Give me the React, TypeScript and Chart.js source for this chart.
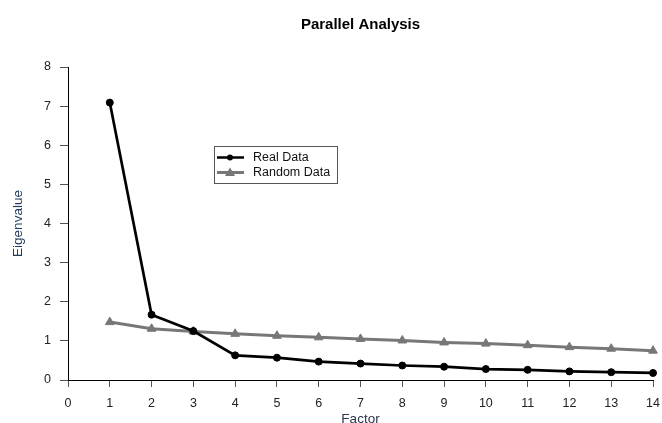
import React, { useEffect, useRef } from "react";
import { Chart, registerables } from "chart.js";

Chart.register(...registerables);

const factors = [1, 2, 3, 4, 5, 6, 7, 8, 9, 10, 11, 12, 13, 14];
const realData = [7.09, 1.67, 1.25, 0.63, 0.57, 0.47, 0.42, 0.37, 0.34, 0.28, 0.26, 0.22, 0.2, 0.18];
const randomData = [1.48, 1.31, 1.24, 1.18, 1.13, 1.09, 1.05, 1.01, 0.96, 0.93, 0.89, 0.84, 0.8, 0.75];
const legendLabels = ["Real Data", "Random Data"];
const titleText = "Parallel Analysis";
const xTitle = "Factor";
const yTitle = "Eigenvalue";

const FONT = "'Liberation Sans', Arial, Helvetica, sans-serif";
const REAL_COLOR = "#000000";
const RANDOM_COLOR = "#777777";

const legendPlugin = {
  id: "customLegend",
  afterDraw(chart: any) {
    const ctx = chart.ctx;
    ctx.save();
    ctx.strokeStyle = "#555";
    ctx.lineWidth = 1;
    ctx.strokeRect(214.5, 146.5, 123, 37);
    const rows = [
      { y: 157.5, color: REAL_COLOR, style: "circle", r: 3, lw: 2.5 },
      { y: 172.5, color: RANDOM_COLOR, style: "triangle", r: 5, lw: 3 },
    ];
    rows.forEach((row, i) => {
      ctx.strokeStyle = row.color;
      ctx.fillStyle = row.color;
      ctx.lineWidth = row.lw;
      ctx.beginPath();
      ctx.moveTo(217, row.y);
      ctx.lineTo(244, row.y);
      ctx.stroke();
      ctx.beginPath();
      if (row.style === "circle") {
        ctx.arc(230, row.y, row.r, 0, Math.PI * 2);
      } else {
        ctx.moveTo(230, row.y - row.r);
        ctx.lineTo(230 + row.r, row.y + row.r * 0.7);
        ctx.lineTo(230 - row.r, row.y + row.r * 0.7);
        ctx.closePath();
      }
      ctx.fill();
      ctx.fillStyle = "#111";
      ctx.font = `12.5px ${FONT}`;
      ctx.textBaseline = "middle";
      ctx.textAlign = "left";
      ctx.fillText(legendLabels[i], 253, row.y);
    });
    ctx.restore();
  },
};

export default function App() {
  const canvasRef = useRef<HTMLCanvasElement | null>(null);

  useEffect(() => {
    document.body.style.margin = "0";
    const canvas = canvasRef.current;
    if (!canvas) return;
    const chart = new Chart(canvas, {
      type: "line",
      data: {
        datasets: [
          {
            label: legendLabels[0],
            data: factors.map((f, i) => ({ x: f, y: realData[i] })),
            borderColor: REAL_COLOR,
            backgroundColor: REAL_COLOR,
            borderWidth: 2.7,
            pointStyle: "circle",
            pointRadius: 3.5,
            pointBorderWidth: 1,
            clip: false,
          },
          {
            label: legendLabels[1],
            data: factors.map((f, i) => ({ x: f, y: randomData[i] })),
            borderColor: RANDOM_COLOR,
            backgroundColor: RANDOM_COLOR,
            borderWidth: 3,
            pointStyle: "triangle",
            pointRadius: 5,
            pointBorderWidth: 1,
            clip: false,
          },
        ],
      },
      options: {
        animation: false,
        responsive: false,
        devicePixelRatio: 1,
        layout: { padding: { left: 0, right: 9, top: 0, bottom: 0 } },
        plugins: {
          legend: { display: false },
          tooltip: { enabled: false },
          title: {
            display: true,
            text: titleText,
            fullSize: false,
            color: "#000",
            font: { family: FONT, size: 15, weight: "bold" },
            padding: { top: 16, bottom: 33 },
          },
        },
        scales: {
          x: {
            type: "linear",
            min: 0,
            max: 14,
            afterFit: (scale: any) => {
              scale.height = 43;
              scale.paddingLeft = 0;
              scale.paddingRight = 0;
            },
            ticks: {
              stepSize: 1,
              color: "#222",
              font: { family: FONT, size: 12.5 },
              padding: 9,
              maxRotation: 0,
            },
            grid: {
              display: true,
              drawOnChartArea: false,
              drawTicks: true,
              tickLength: 7,
              color: "#555",
            },
            border: { display: true, color: "#000", width: 1 },
            title: {
              display: true,
              text: xTitle,
              color: "#2a3550",
              font: { family: FONT, size: 13.5 },
              padding: { top: 0, bottom: -4 },
            },
          },
          y: {
            type: "linear",
            min: 0,
            max: 8,
            afterFit: (scale: any) => {
              scale.width = 68;
              scale.paddingTop = 0;
              scale.paddingBottom = 0;
            },
            ticks: {
              stepSize: 1,
              color: "#222",
              font: { family: FONT, size: 12.5 },
              padding: 9,
            },
            grid: {
              display: true,
              drawOnChartArea: false,
              drawTicks: true,
              tickLength: 8,
              color: "#555",
            },
            border: { display: true, color: "#000", width: 1 },
            title: {
              display: true,
              text: yTitle,
              color: "#203a60",
              font: { family: FONT, size: 13.5 },
              padding: { top: 10, bottom: 0 },
            },
          },
        },
      },
      plugins: [legendPlugin],
    } as any);
    return () => chart.destroy();
  }, []);

  return <canvas ref={canvasRef} width={662} height={423} style={{ display: "block" }} />;
}
